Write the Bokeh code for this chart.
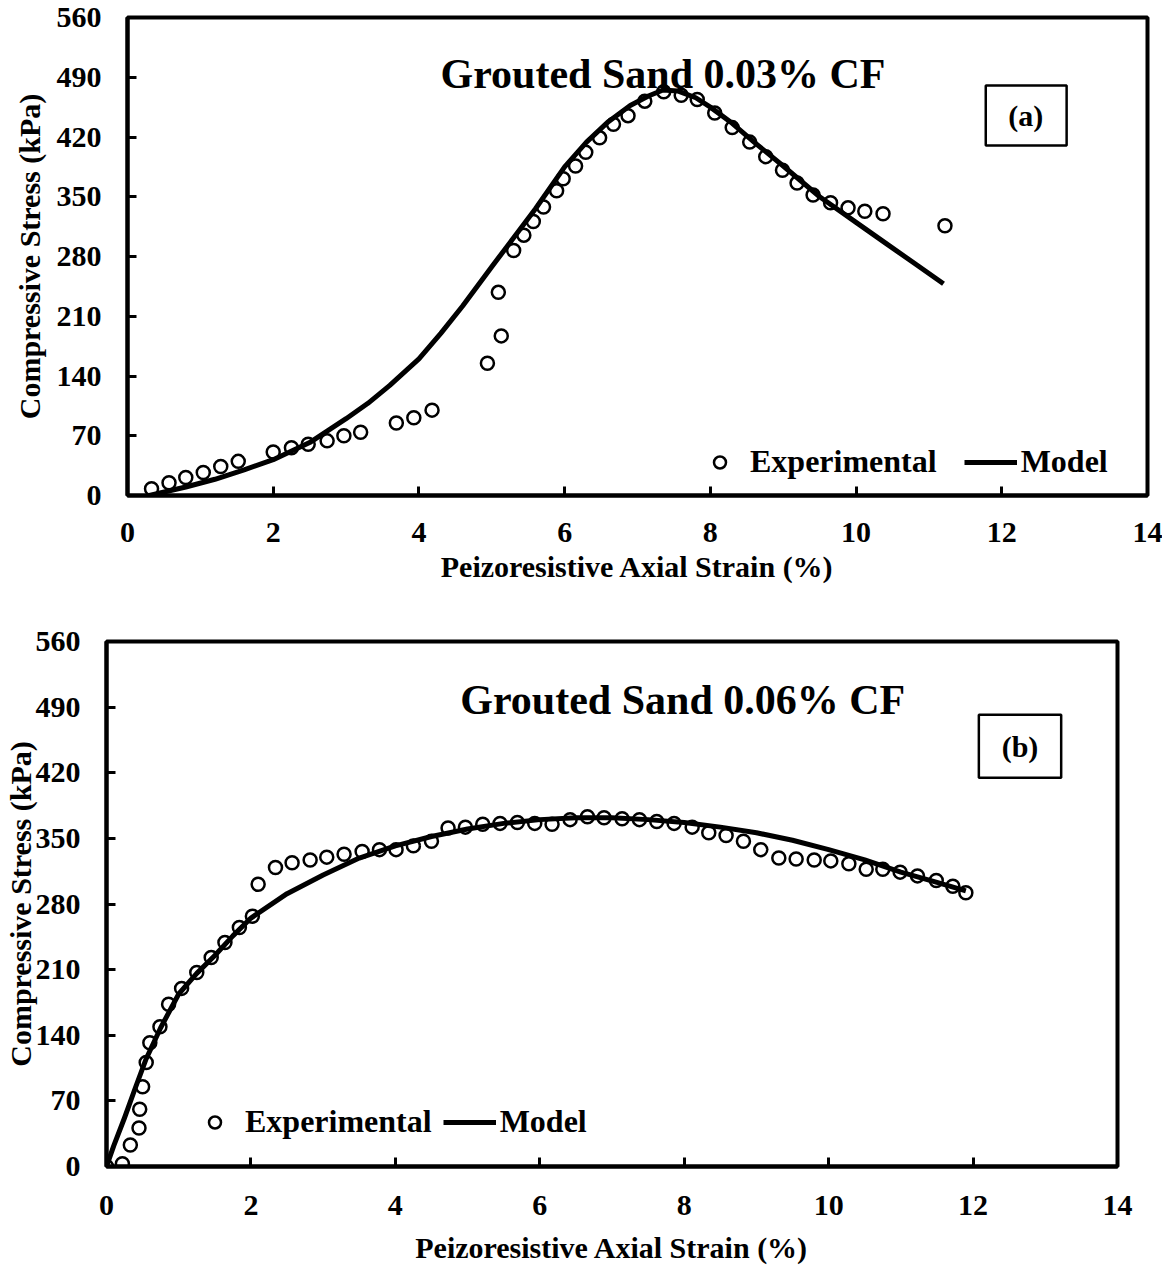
from bokeh.plotting import figure
from bokeh.models import Range1d, FixedTicker, Label, BoxAnnotation
from bokeh.embed import file_html
from bokeh.resources import INLINE

FONT = "Liberation Serif"

x_ticks = [0, 2, 4, 6, 8, 10, 12, 14]
y_ticks = [0, 70, 140, 210, 280, 350, 420, 490, 560]

# ---- (a) Grouted Sand 0.03% CF ----
a_exp_x = [0.33, 0.57, 0.80, 1.04, 1.28, 1.52, 2.00, 2.25, 2.48, 2.74, 2.97, 3.20,
           3.69, 3.93, 4.18, 4.94, 5.09, 5.13, 5.30, 5.44, 5.57, 5.71, 5.89, 5.98,
           6.15, 6.29, 6.48, 6.67, 6.87, 7.10, 7.36, 7.60, 7.82, 8.06, 8.30, 8.54,
           8.76, 8.99, 9.19, 9.41, 9.65, 9.89, 10.12, 10.37, 11.22]
a_exp_y = [8, 15, 21, 27, 34, 40, 51, 56, 60, 64, 70, 74,
           85, 91, 100, 155, 238, 187, 287, 305, 321, 338, 357, 371,
           386, 402, 419, 435, 445, 462, 473, 469, 464, 448, 431, 414,
           397, 381, 366, 352, 343, 337, 333, 330, 316]
a_mod_x = [0.3, 0.8, 1.2, 1.6, 2.0, 2.5, 3.0, 3.3, 3.6, 4.0, 4.3, 4.6, 5.0, 5.3,
           5.6, 6.0, 6.3, 6.6, 6.9, 7.15, 7.35, 7.55, 7.8, 8.0, 8.3, 8.6, 9.0,
           9.5, 10.0, 10.4, 10.8, 11.2]
a_mod_y = [0, 10, 19, 30, 42, 62, 90, 108, 129, 160, 190, 222, 268, 302,
           336, 385, 414, 438, 457, 468, 475, 474, 466, 455, 436, 414, 386,
           350, 320, 296, 272, 248]

# ---- (b) Grouted Sand 0.06% CF ----
b_exp_x = [0.00, 0.22, 0.33, 0.45, 0.46, 0.50, 0.55, 0.60, 0.74, 0.86, 1.04, 1.25,
           1.45, 1.64, 1.84, 2.02, 2.10, 2.34, 2.57, 2.82, 3.05, 3.29, 3.54, 3.78,
           4.01, 4.25, 4.50, 4.73, 4.97, 5.21, 5.45, 5.69, 5.93, 6.17, 6.42, 6.66,
           6.89, 7.14, 7.38, 7.62, 7.86, 8.11, 8.34, 8.58, 8.82, 9.06, 9.31, 9.55,
           9.80, 10.03, 10.28, 10.52, 10.75, 10.99, 11.23, 11.49, 11.72, 11.90]
b_exp_y = [0, 3, 23, 41, 61, 85, 111, 132, 149, 173, 190, 207,
           223, 239, 255, 267, 301, 319, 324, 327, 330, 333, 336, 338,
           338, 342, 347, 361, 362, 365, 366, 367, 366, 365, 370, 373,
           372, 371, 370, 368, 366, 362, 356, 353, 347, 338, 329, 328,
           327, 326, 323, 317, 317, 314, 310, 305, 299, 292]
b_mod_x = [0, 0.1, 0.25, 0.4, 0.55, 0.75, 1.0, 1.25, 1.5, 1.75, 2.0, 2.5, 3.0,
           3.5, 4.0, 4.5, 5.0, 5.5, 6.0, 6.5, 7.0, 7.5, 8.0, 8.5, 9.0, 9.5, 10.0,
           10.5, 11.0, 11.5, 11.9]
b_mod_y = [0, 22, 52, 84, 115, 148, 184, 206, 225, 246, 265, 291, 311,
           329, 342, 352, 360, 366, 370, 372, 372, 370, 367, 362, 356, 348, 338,
           327, 314, 303, 294]

titles = ["Grouted Sand 0.03% CF", "Grouted Sand 0.06% CF"]
tags = ["(a)", "(b)"]
x_label = "Peizoresistive Axial Strain (%)"
y_label = "Compressive Stress (kPa)"
legend_labels = ["Experimental", "Model"]


def style_fig(p, tick_standoff_x, xlab_standoff, ylab_standoff):
    p.grid.visible = False
    p.outline_line_color = "black"
    p.outline_line_width = 4
    p.xaxis.ticker = FixedTicker(ticks=x_ticks)
    p.yaxis.ticker = FixedTicker(ticks=y_ticks)
    p.xaxis.axis_label = x_label
    p.yaxis.axis_label = y_label
    for ax in p.axis:
        ax.axis_line_width = 4
        ax.major_tick_in = 9
        ax.major_tick_out = 0
        ax.major_tick_line_width = 3
        ax.minor_tick_line_color = None
        ax.major_label_text_font = FONT
        ax.major_label_text_font_style = "bold"
        ax.major_label_text_font_size = "30px"
        ax.major_label_text_color = "black"
        ax.axis_label_text_font = FONT
        ax.axis_label_text_font_style = "bold"
        ax.axis_label_text_font_size = "30px"
        ax.axis_label_text_color = "black"
    p.xaxis.major_label_standoff = tick_standoff_x
    p.yaxis.major_label_standoff = 26
    p.xaxis.axis_label_standoff = xlab_standoff
    p.yaxis.axis_label_standoff = ylab_standoff


def add_content(p, exp_x, exp_y, mod_x, mod_y, title, tag, title_pos, box,
                tag_pos, leg_loc, leg_spacing):
    p.scatter(exp_x, exp_y, marker="circle", size=13, line_width=2.5,
              line_color="black", fill_alpha=0, legend_label=legend_labels[0])
    p.line(mod_x, mod_y, line_width=5, line_color="black", line_join="round",
           legend_label=legend_labels[1])

    lg = p.legend[0]
    lg.orientation = "horizontal"
    lg.location = leg_loc
    lg.padding = 0
    lg.margin = 0
    lg.spacing = leg_spacing
    lg.glyph_width = 53
    lg.glyph_height = 30
    lg.label_height = 30
    lg.label_standoff = 4
    lg.border_line_color = None
    lg.background_fill_alpha = 0
    lg.label_text_font = FONT
    lg.label_text_font_style = "bold"
    lg.label_text_font_size = "32px"
    lg.label_text_color = "black"

    p.add_layout(Label(x=title_pos[0], y=title_pos[1], text=title,
                       text_font=FONT, text_font_style="bold",
                       text_font_size="42px", text_color="black",
                       text_align="center", text_baseline="alphabetic"))
    p.add_layout(BoxAnnotation(left=box[0], right=box[1], bottom=box[2], top=box[3],
                               fill_color="white", fill_alpha=1,
                               line_color="black", line_alpha=1, line_width=2.5))
    p.add_layout(Label(x=tag_pos[0], y=tag_pos[1], text=tag,
                       text_font=FONT, text_font_style="bold",
                       text_font_size="30px", text_color="black",
                       text_align="center", text_baseline="middle"))


# Figure (a)
p1 = figure(frame_width=1020, frame_height=478,
            x_range=Range1d(0, 14), y_range=Range1d(0, 560),
            output_backend="svg", toolbar_location=None,
            min_border_left=127, min_border_right=15,
            min_border_top=17, min_border_bottom=105)
style_fig(p1, 27, 5, 8)
add_content(p1, a_exp_x, a_exp_y, a_mod_x, a_mod_y, titles[0], tags[0],
            (7.35, 494), (11.78, 12.89, 410, 480.3), (12.33, 445), (566, 15), 27)

# Figure (b)
p2 = figure(frame_width=1011, frame_height=525,
            x_range=Range1d(0, 14), y_range=Range1d(0, 560),
            output_backend="svg", toolbar_location=None,
            min_border_left=106, min_border_right=40,
            min_border_top=41, min_border_bottom=100)
style_fig(p2, 29, 13, -4)
add_content(p2, b_exp_x, b_exp_y, b_mod_x, b_mod_y, titles[1], tags[1],
            (7.98, 498), (12.08, 13.22, 414.6, 481.8), (12.65, 448), (82, 26), 11)

# two separate roots, stacked, so that their frames keep their own offsets
open("out.html", "w").write(file_html([p1, p2], INLINE))
